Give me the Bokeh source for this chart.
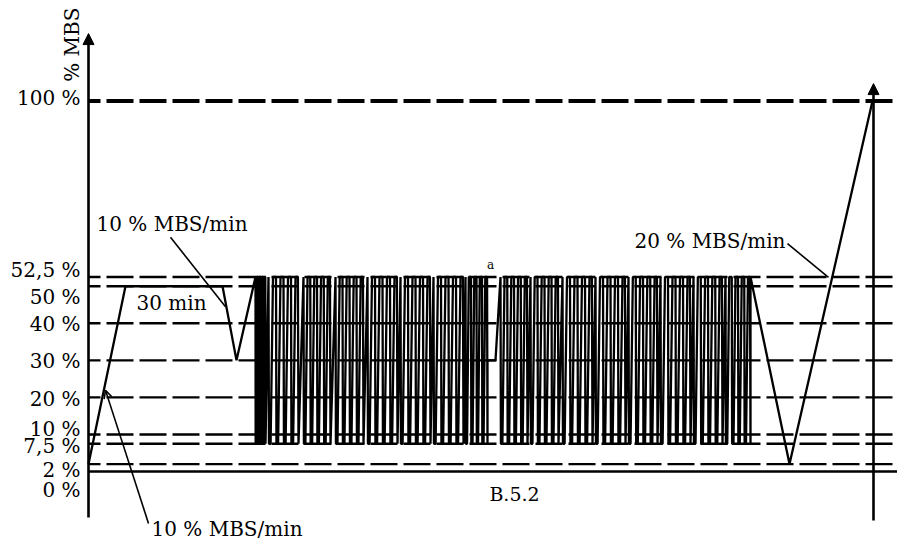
import numpy as np
from bokeh.plotting import figure
from bokeh.models import Arrow, NormalHead, OpenHead, Range1d
from bokeh.core.properties import value
from bokeh.embed import file_html
from bokeh.resources import INLINE

# ---------------- data (% MBS vs. time, arbitrary time units) ----------------
levels = [2, 7.5, 10, 20, 30, 40, 50, 52.5]
top_level = 100
zero_level = 0
level_labels = ["0 %", "2 %", "7,5 %", "10 %", "20 %", "30 %", "40 %", "50 %", "52,5 %", "100 %"]
label_pos = [-5.1, 0.5, 7.0, 11.6, 19.7, 29.7, 39.7, 47.2, 54.3, 100.7]

low_level = 7.5
high_level = 52.5

# ramp up, 30 min hold, drop to 30 %, rise to cycling
pre_t = [0, 37, 134, 148, 167]
pre_v = [2, 50, 50, 30, 52.5]

# cycling blocks before the pause (a)
block_start_1 = [167, 180, 215, 247, 279, 312, 345, 377]
block_end_1 = [177, 210, 242, 275, 309, 342, 375, 399]
# pause at 30 %
pause_t = [399, 407, 412]
pause_v = [30, 30, 52.5]
# cycling blocks after the pause
block_start_2 = [412, 442, 474, 507, 540, 572, 605, 637]
block_end_2 = [439, 470, 504, 537, 569, 602, 634, 662]
# final unloading and ramp to break
post_t = [662, 701, 784]
post_v = [52.5, 2, 100]

# shape of the cycles inside one block (fraction of block width, 1 = high, 0 = low)
tooth_frac = [0.00, 0.015, 0.07, 0.15, 0.25, 0.265, 0.32, 0.40, 0.50, 0.515, 0.57, 0.65,
              0.75, 0.765, 0.82, 0.90, 0.98, 1.00]
tooth_hi = [1, 0, 0, 1, 1, 0, 0, 1, 1, 0, 0, 1, 1, 0, 0, 1, 1, 0]

t_min = -88
t_max = 809


def blocks(starts, ends):
    xs, ys = [], []
    for s, e in zip(starts, ends):
        for f, h in zip(tooth_frac, tooth_hi):
            xs.append(s + f * (e - s))
            ys.append(high_level if h else low_level)
    return xs, ys


b1x, b1y = blocks(block_start_1, block_end_1)
b2x, b2y = blocks(block_start_2, block_end_2)
prof_t = pre_t + b1x + pause_t + b2x + post_t
prof_v = pre_v + b1y + pause_v + b2y + post_v

# ---------------- figure ----------------
p = figure(width=897, height=542, x_range=Range1d(t_min, t_max), y_range=Range1d(-19.16, 127.13),
           output_backend="svg", toolbar_location=None, x_axis_location=None, y_axis_location=None,
           min_border=0, outline_line_color=None, background_fill_color="white",
           border_fill_color="white")
p.grid.visible = False

FONT = value("DejaVu Serif")

# dashed reference levels
p.segment(x0=[0] * len(levels), x1=[t_max] * len(levels), y0=levels, y1=levels,
          line_color="black", line_width=2.4, line_dash="27 6", line_dash_offset=15)
p.segment(x0=[0], x1=[t_max], y0=[top_level], y1=[top_level],
          line_color="black", line_width=3.8, line_dash="27 6", line_dash_offset=15)
p.segment(x0=[0], x1=[t_max], y0=[zero_level], y1=[zero_level],
          line_color="black", line_width=2.4)

# load profile
p.line(prof_t, prof_v, line_color="black", line_width=2.3)

# axes with arrows
y_axis_bottom = -12.4
y_axis_top = 118.2
end_axis_t = 785
end_axis_top = 104.7
p.add_layout(Arrow(end=NormalHead(size=11, fill_color="black", line_color="black"),
                   x_start=0, y_start=y_axis_bottom, x_end=0, y_end=y_axis_top,
                   line_color="black", line_width=2.6))
p.add_layout(Arrow(end=NormalHead(size=11, fill_color="black", line_color="black"),
                   x_start=end_axis_t, y_start=-13.2, x_end=end_axis_t, y_end=end_axis_top,
                   line_color="black", line_width=2.6))

# tick labels
p.text(x=[-8] * len(level_labels), y=label_pos, text=level_labels, text_font=FONT,
       text_font_size="20px", text_align="right", text_baseline="middle", text_color="black")

# axis title
p.text(x=[-17], y=[115.2], text=["% MBS"], angle=np.pi / 2, text_font=FONT,
       text_font_size="20px", text_align="center", text_baseline="middle", text_color="black")

# annotations
p.text(x=[8], y=[66.7], text=["10 % MBS/min"], text_font=FONT, text_font_size="20px",
       text_align="left", text_baseline="middle")
p.segment(x0=[82], y0=[63.2], x1=[137], y1=[44.5], line_color="black", line_width=1.6)

p.text(x=[83], y=[45.6], text=["30 min"], text_font=FONT, text_font_size="20px",
       text_align="center", text_baseline="middle")

p.text(x=[63], y=[-15.4], text=["10 % MBS/min"], text_font=FONT, text_font_size="20px",
       text_align="left", text_baseline="middle")
p.add_layout(Arrow(end=OpenHead(size=8, line_width=1.6, line_color="black"),
                   x_start=60, y_start=-14.0, x_end=17, y_end=21.9,
                   line_color="black", line_width=1.6))

p.text(x=[697], y=[62.3], text=["20 % MBS/min"], text_font=FONT, text_font_size="20px",
       text_align="right", text_baseline="middle")
p.segment(x0=[699], y0=[61.5], x1=[740], y1=[52.4], line_color="black", line_width=1.6)

p.text(x=[402], y=[55.8], text=["a"], text_font=FONT, text_font_size="12px",
       text_align="center", text_baseline="middle")

p.text(x=[426], y=[-6.2], text=["B.5.2"], text_font=FONT, text_font_size="19px",
       text_align="center", text_baseline="middle")

open("out.html", "w").write(file_html(p, INLINE))
